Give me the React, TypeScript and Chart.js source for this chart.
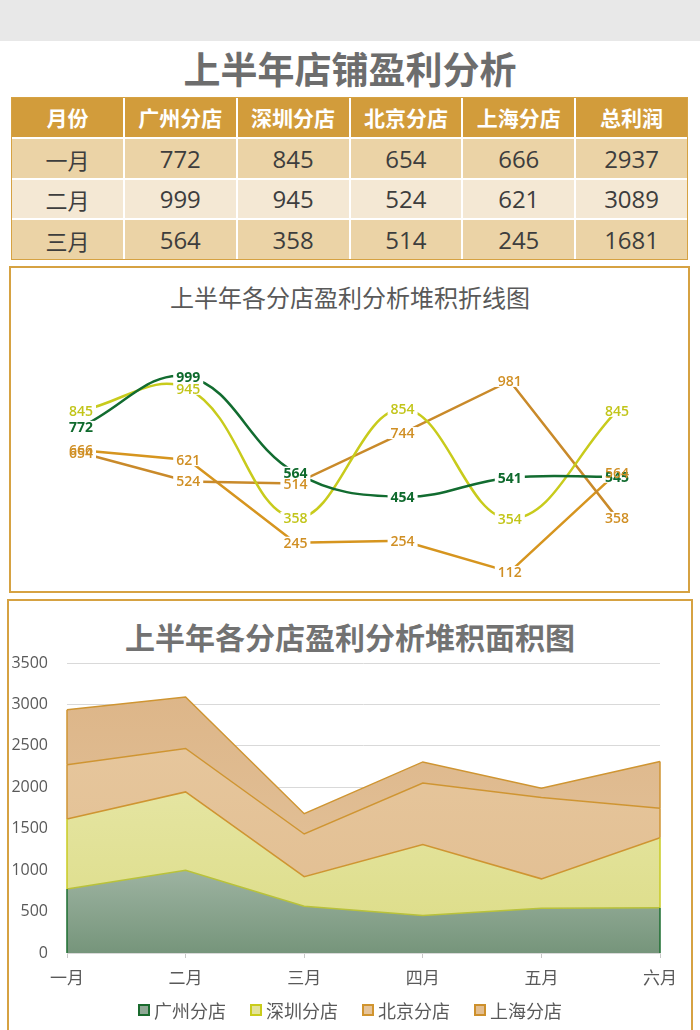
import React, { useEffect, useRef } from 'react';
import { Chart, registerables } from 'chart.js';

Chart.register(...registerables);

// ---------- data ----------
const months = ['一月', '二月', '三月', '四月', '五月', '六月'];
const stores = ['广州分店', '深圳分店', '北京分店', '上海分店'];
const guangzhou = [772, 999, 564, 454, 541, 545];
const shenzhen = [845, 945, 358, 854, 354, 845];
const beijing = [654, 524, 514, 744, 981, 358];
const shanghai = [666, 621, 245, 254, 112, 564];
const tableHeaders = ['月份', '广州分店', '深圳分店', '北京分店', '上海分店', '总利润'];
const tableMonthCount = 3;
const areaYTicks = { min: 0, max: 3500, step: 500 };

const mainTitle = '上半年店铺盈利分析';
const lineTitle = '上半年各分店盈利分析堆积折线图';
const areaTitle = '上半年各分店盈利分析堆积面积图';

const seriesValues = [guangzhou, shenzhen, beijing, shanghai];

// ---------- styles ----------
const CJK = '"Noto Sans CJK SC", "Noto Sans", sans-serif';
const NUM = '"Open Sans", "Liberation Sans", sans-serif';
const GOLD = '#d6a242';

const lineColors = ['#126c30', '#c8cb1c', '#c98a2a', '#d6951f'];
const lineLabelColors = ['#0f6a2d', '#c2c51a', '#d08f24', '#d08f24'];
const lineSmooth = [0.4, 0.4, 0, 0];

const legendFill = ['#8fa895', '#e3e39a', '#e6c49a', '#e3be90'];
const legendBorder = ['#1a6b2e', '#c9cc1b', '#d0942e', '#cd902c'];

function makeGrad(stops: string[], fromVal: number) {
  return (ctx: any) => {
    const chart = ctx.chart;
    const ca = chart.chartArea;
    if (!ca || !chart.scales || !chart.scales.y) return stops[0];
    const top = chart.scales.y.getPixelForValue(fromVal);
    const g = chart.ctx.createLinearGradient(0, top, 0, ca.bottom);
    g.addColorStop(0, stops[0]);
    g.addColorStop(1, stops[1]);
    return g;
  };
}

const pointLabelPlugin = {
  id: 'pointLabels',
  afterDatasetsDraw(chart: any) {
    const ctx = chart.ctx;
    const items: any[] = [];
    chart.data.datasets.forEach((ds: any, i: number) => {
      const meta = chart.getDatasetMeta(i);
      meta.data.forEach((pt: any, j: number) => {
        items.push({ x: pt.x, y: pt.y, text: String(ds.data[j]), color: ds.labelColor, weight: ds.labelWeight });
      });
    });
    ctx.save();
    ctx.textAlign = 'center';
    ctx.textBaseline = 'middle';
    items.forEach((it) => {
      ctx.font = `${it.weight} 14px ${NUM}`;
      const w = ctx.measureText(it.text).width;
      ctx.fillStyle = '#ffffff';
      ctx.fillRect(it.x - w / 2 - 3, it.y - 6, w + 6, 12);
    });
    items.forEach((it) => {
      ctx.font = `${it.weight} 14px ${NUM}`;
      ctx.fillStyle = it.color;
      ctx.fillText(it.text, it.x, it.y + 1);
    });
    ctx.restore();
  },
};

const areaEdgePlugin = {
  id: 'areaEdges',
  afterDatasetsDraw(chart: any) {
    const ctx = chart.ctx;
    const yScale = chart.scales.y;
    const n = chart.data.labels.length;
    ctx.save();
    chart.data.datasets.forEach((ds: any, i: number) => {
      const meta = chart.getDatasetMeta(i);
      const prev = i > 0 ? chart.getDatasetMeta(i - 1) : null;
      [0, n - 1].forEach((j) => {
        const p = meta.data[j];
        const bottom = prev ? prev.data[j].y : yScale.getPixelForValue(0);
        ctx.strokeStyle = ds.edgeColor;
        ctx.lineWidth = 1.5;
        ctx.beginPath();
        ctx.moveTo(p.x, bottom);
        ctx.lineTo(p.x, p.y);
        ctx.stroke();
      });
    });
    ctx.restore();
  },
};

function LineChart() {
  const ref = useRef<HTMLCanvasElement>(null);
  useEffect(() => {
    if (!ref.current) return;
    const chart = new Chart(ref.current, {
      type: 'line',
      data: {
        labels: months,
        datasets: stores.map((s, i) => ({
          label: s,
          data: seriesValues[i],
          borderColor: lineColors[i],
          backgroundColor: lineColors[i],
          borderWidth: 2.5,
          tension: lineSmooth[i],
          pointRadius: 0,
          fill: false,
          clip: false,
          labelColor: lineLabelColors[i],
          labelWeight: i === 0 ? 'bold' : '600',
        })) as any,
      },
      options: {
        animation: false,
        responsive: false,
        devicePixelRatio: 1,
        layout: { padding: { left: 81, right: 83, top: 88.8, bottom: 18.4 } },
        plugins: { legend: { display: false }, title: { display: false }, tooltip: { enabled: false } },
        scales: {
          x: { display: false, offset: false },
          y: { display: false, min: 100, max: 1100 },
        },
      },
      plugins: [pointLabelPlugin],
    });
    return () => chart.destroy();
  }, []);
  return (
    <canvas
      ref={ref}
      width={700}
      height={327}
      style={{ position: 'absolute', left: 0, top: 266, width: 700, height: 327 }}
    />
  );
}

function AreaChart() {
  const ref = useRef<HTMLCanvasElement>(null);
  useEffect(() => {
    if (!ref.current) return;
    const fills = [
      makeGrad(['#9db3a1', '#76957b'], 1000),
      makeGrad(['#e5e5a2', '#dcdc86'], 2000),
      makeGrad(['#e6c69c', '#e1bd90'], 2500),
      makeGrad(['#ddb689', '#e4c59e'], 3100),
    ];
    const borders = ['#b9c23a', '#cf9532', '#cf9532', '#cf9532'];
    const edges = ['#1d6e30', '#c8cb22', '#cf9532', '#cf9532'];
    const chart = new Chart(ref.current, {
      type: 'line',
      data: {
        labels: months,
        datasets: stores.map((s, i) => ({
          label: s,
          data: seriesValues[i],
          fill: i === 0 ? 'origin' : '-1',
          backgroundColor: fills[i],
          borderColor: borders[i],
          borderWidth: 1.5,
          pointRadius: 0,
          tension: 0,
          edgeColor: edges[i],
        })) as any,
      },
      options: {
        animation: false,
        responsive: false,
        devicePixelRatio: 1,
        layout: { padding: { left: 0, right: 40, top: 63, bottom: 37 } },
        plugins: { legend: { display: false }, title: { display: false }, tooltip: { enabled: false } },
        scales: {
          x: {
            offset: false,
            grid: { display: true, drawOnChartArea: false, drawTicks: true, tickLength: 5, color: '#c8c8c8', offset: false },
            border: { display: true, color: '#d9d9d9' },
            ticks: { color: '#595959', font: { family: CJK, size: 17 }, padding: 9, maxRotation: 0 },
            afterFit: (scale: any) => { scale.height = 40; },
          },
          y: {
            stacked: true,
            min: areaYTicks.min,
            max: areaYTicks.max,
            ticks: {
              stepSize: areaYTicks.step,
              color: '#595959',
              font: { family: NUM, size: 16 },
              padding: 19,
              callback: (v: any) => String(v),
            },
            grid: { color: '#d9d9d9', drawTicks: false, lineWidth: 1 },
            border: { display: false },
            afterFit: (scale: any) => { scale.width = 67; },
          },
        },
      },
      plugins: [areaEdgePlugin],
    });
    return () => chart.destroy();
  }, []);
  return (
    <canvas
      ref={ref}
      width={700}
      height={430}
      style={{ position: 'absolute', left: 0, top: 600, width: 700, height: 430 }}
    />
  );
}

function DataTable() {
  const rowBg = ['#ebd3a6', '#f4e8d4', '#ebd3a6'];
  const rows = Array.from({ length: tableMonthCount }, (_, r) => {
    const vals = seriesValues.map((s) => s[r]);
    const total = vals.reduce((a, b) => a + b, 0);
    return [months[r], ...vals.map(String), String(total)];
  });
  const cell = (content: string, bg: string, header: boolean, isLabel: boolean, key: string) => (
    <div
      key={key}
      style={{
        background: bg,
        display: 'flex',
        alignItems: 'center',
        justifyContent: 'center',
        color: header ? '#ffffff' : '#3d3d3d',
        fontFamily: header || isLabel ? CJK : NUM,
        fontWeight: header ? 700 : 400,
        fontSize: header ? 21 : isLabel ? 22 : 24,
        lineHeight: 1,
      }}
    >
      {content}
    </div>
  );
  return (
    <div
      style={{
        position: 'absolute',
        left: 11,
        top: 97,
        width: 677,
        height: 163,
        boxSizing: 'border-box',
        border: `1px solid ${GOLD}`,
        background: '#ffffff',
        display: 'grid',
        gridTemplateColumns: 'repeat(6, 1fr)',
        gridTemplateRows: '39px 39px 38px 39px',
        gap: 2,
      }}
    >
      {tableHeaders.map((h, i) => cell(h, '#d29c3b', true, false, 'h' + i))}
      {rows.map((row, r) => row.map((v, c) => cell(v, rowBg[r], false, c === 0, `r${r}c${c}`)))}
    </div>
  );
}

export default function App() {
  return (
    <div
      style={{
        position: 'absolute',
        left: 0,
        top: 0,
        width: 700,
        height: 1030,
        overflow: 'hidden',
        background: '#ffffff',
        fontFamily: CJK,
      }}
    >
      <div style={{ position: 'absolute', left: 0, top: 0, width: 700, height: 41, background: '#e8e8e8' }} />
      <div
        style={{
          position: 'absolute',
          left: 0,
          top: 46,
          width: 700,
          textAlign: 'center',
          fontSize: 37,
          fontWeight: 700,
          color: '#6d6d6d',
          lineHeight: '44px',
        }}
      >
        {mainTitle}
      </div>
      <DataTable />

      <div
        style={{
          position: 'absolute',
          left: 9,
          top: 266,
          width: 681,
          height: 327,
          boxSizing: 'border-box',
          border: `2px solid ${GOLD}`,
        }}
      />
      <div
        style={{
          position: 'absolute',
          left: 0,
          top: 282,
          width: 700,
          textAlign: 'center',
          fontSize: 24,
          color: '#595959',
          lineHeight: '30px',
        }}
      >
        {lineTitle}
      </div>
      <LineChart />

      <div
        style={{
          position: 'absolute',
          left: 7,
          top: 599,
          width: 686,
          height: 460,
          boxSizing: 'border-box',
          border: `2px solid ${GOLD}`,
        }}
      />
      <div
        style={{
          position: 'absolute',
          left: 0,
          top: 618,
          width: 700,
          textAlign: 'center',
          fontSize: 30,
          fontWeight: 700,
          color: '#727272',
          lineHeight: '36px',
        }}
      >
        {areaTitle}
      </div>
      <AreaChart />
      <div
        style={{
          position: 'absolute',
          left: 0,
          top: 998,
          width: 700,
          height: 24,
          display: 'flex',
          justifyContent: 'center',
          alignItems: 'center',
          gap: 24,
        }}
      >
        {stores.map((s, i) => (
          <div key={s} style={{ display: 'flex', alignItems: 'center' }}>
            <div
              style={{
                width: 12,
                height: 12,
                boxSizing: 'border-box',
                border: `2px solid ${legendBorder[i]}`,
                background: legendFill[i],
                marginRight: 4,
              }}
            />
            <span style={{ fontSize: 18, color: '#595959', lineHeight: '24px' }}>{s}</span>
          </div>
        ))}
      </div>
    </div>
  );
}
